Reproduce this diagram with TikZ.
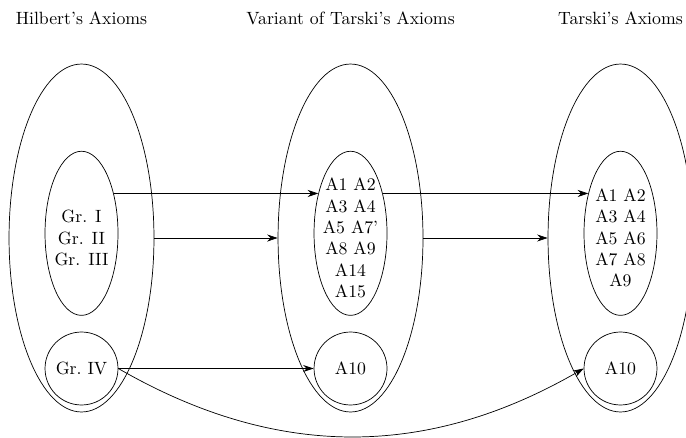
\documentclass[tikz,border=0pt]{standalone}
\usepackage{tikz}
\usetikzlibrary{positioning,shapes.geometric,arrows.meta}

\begin{document}
\begin{tikzpicture}[
  outer/.style = {draw, shape = ellipse, minimum width = 2.87cm, minimum height = 6.89cm, inner sep = 0pt},
  inner/.style = {draw, shape = ellipse, minimum width = 1.445cm, minimum height = 3.25cm, inner sep = 0pt},
  group/.style = {draw, shape = circle, minimum size = 1.445cm, inner sep = 0pt},
  axioms/.style = {align = center, inner sep = 0pt},
  >={Stealth[length = 6pt, width = 4pt]}
]
\useasboundingbox (-1.614,-3.941) rectangle (11.97,4.713);

\node[anchor = base] (htitle) at (0,4.22) {Hilbert's Axioms};
\node[anchor = base] (vtitle) at (5.327,4.22) {Variant of Tarski's Axioms};
\node[anchor = base] (ttitle) at (10.673,4.22) {Tarski's Axioms};

\node[outer] (hout) at (0,0) {};
\node[inner] (hin) at (0,0.093) {};
\node[axioms] (hax) at (0,0) {Gr. I\\Gr. II\\Gr. III};
\node[group] (hiv) at (0,-2.584) {Gr.\ IV};

\node[outer] (vout) at (5.327,0) {};
\node[inner] (vin) at (5.327,0.093) {};
\node[axioms] (vax) at (5.327,0) {A1 A2\\A3 A4\\A5 A7'\\A8 A9\\A14\\A15};
\node[group] (viv) at (5.327,-2.584) {A10};

\node[outer] (tout) at (10.673,0) {};
\node[inner] (tin) at (10.673,0.093) {};
\node[axioms] (tax) at (10.673,0) {A1 A2\\A3 A4\\A5 A6\\A7 A8\\A9};
\node[group] (tiv) at (10.673,-2.584) {A10};

\draw[->] (hin.51) -- (vin.129);
\draw[->] (vin.51) -- (tin.129);
\draw[->] (hout.east) -- (vout.west);
\draw[->] (vout.east) -- (tout.west);
\draw[->] (hiv.east) -- (viv.west);
\draw[->] (hiv.east) to[bend right = 30] (tiv.west);
\end{tikzpicture}
\end{document}
